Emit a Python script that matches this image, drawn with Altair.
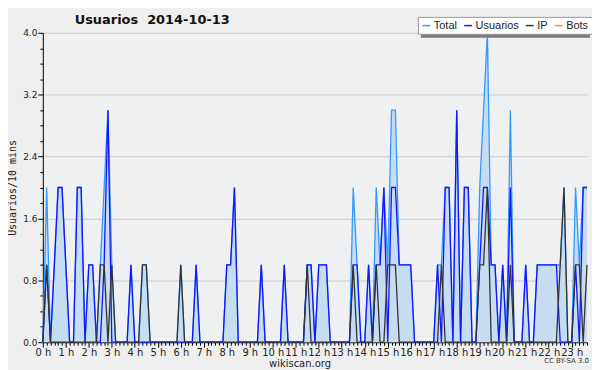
import altair as alt
import pandas as pd

# 10-minute slots, 0 .. 142 (00:00 .. 23:40)
n_slots = 143

total_pts = {1: 2, 3: 1, 4: 2, 5: 2, 6: 1, 9: 2, 10: 2, 12: 1, 13: 1, 15: 1, 16: 2, 17: 3, 18: 1,
             23: 1, 26: 1, 27: 1, 36: 1, 40: 1, 48: 1, 49: 1, 50: 2, 57: 1, 63: 1, 69: 1, 70: 1,
             72: 1, 73: 1, 74: 1, 81: 2, 82: 1, 85: 1, 87: 2, 88: 1, 89: 2, 90: 1, 91: 3, 92: 3,
             93: 1, 94: 1, 95: 1, 96: 1, 103: 1, 104: 1, 105: 2, 106: 2, 108: 3, 110: 2, 111: 2,
             114: 2, 115: 3, 116: 4, 117: 1, 118: 1, 120: 1, 122: 3, 126: 1, 129: 1, 130: 1,
             131: 1, 132: 1, 133: 1, 134: 1, 135: 1, 136: 2, 139: 2, 140: 1, 141: 2, 142: 2}
usuarios_pts = {1: 1, 3: 1, 4: 2, 5: 2, 6: 1, 9: 2, 10: 2, 12: 1, 13: 1, 16: 1, 17: 3, 23: 1,
                40: 1, 48: 1, 49: 1, 50: 2, 57: 1, 63: 1, 69: 1, 70: 1, 72: 1, 73: 1, 74: 1,
                81: 1, 82: 1, 85: 1, 87: 1, 88: 1, 89: 2, 91: 2, 92: 2, 93: 1, 94: 1, 95: 1,
                96: 1, 103: 1, 105: 2, 106: 2, 108: 3, 110: 2, 111: 2, 114: 1, 115: 2, 116: 2,
                117: 1, 118: 1, 120: 1, 122: 2, 126: 1, 129: 1, 130: 1, 131: 1, 132: 1, 133: 1,
                134: 1, 139: 1, 141: 2, 142: 2}
ip_pts = {1: 1, 15: 1, 16: 1, 18: 1, 26: 1, 27: 1, 36: 1, 69: 1, 81: 1, 87: 1, 90: 1, 91: 1,
          92: 1, 104: 1, 114: 1, 115: 1, 116: 2, 122: 1, 135: 1, 136: 2, 139: 1, 140: 1, 142: 1}

series_names = ["Total", "Usuarios", "IP", "Bots"]
series_colors = ["#3399ff", "#1414ff", "#333333", "#ff9900"]
title_text = "Usuarios\u00a0\u00a02014-10-13"
credit_text = "CC BY-SA 3.0"

total = [total_pts.get(i, 0) for i in range(n_slots)]
usuarios = [usuarios_pts.get(i, 0) for i in range(n_slots)]
ip = [ip_pts.get(i, 0) for i in range(n_slots)]

rows = []
for name, vals in (("Total", total), ("Usuarios", usuarios), ("IP", ip)):
    for i, v in enumerate(vals):
        rows.append({"slot": i, "value": v, "serie": name})
df = pd.DataFrame(rows)

is_hour = "datum.value % 6 === 0"
is_major_y = "abs(datum.value / 0.8 - round(datum.value / 0.8)) < 0.01"

x_enc = alt.X(
    "slot:Q",
    scale=alt.Scale(domain=[0, n_slots - 1], nice=False, zero=False),
    axis=alt.Axis(
        values=list(range(n_slots)),
        labelExpr="datum.value % 6 === 0 ? (datum.value / 6) + ' h' : ''",
        tickSize={"condition": {"test": is_hour, "value": 5}, "value": 3},
        grid=False,
        labelFontSize=10,
        labelPadding=0,
        labelFlush=False,
        labelOverlap=False,
        title="wikiscan.org",
        titleFontSize=10,
        titleFontWeight="normal",
        titlePadding=1,
        titleX=258,
    ),
)
y_enc = alt.Y(
    "value:Q",
    scale=alt.Scale(domain=[0, 4], nice=False),
    axis=alt.Axis(
        values=[round(0.2 * k, 1) for k in range(21)],
        labelExpr=f"{is_major_y} ? format(datum.value, '.1f') : ''",
        tickSize={"condition": {"test": is_major_y, "value": 5}, "value": 3},
        gridOpacity={"condition": {"test": is_major_y, "value": 1}, "value": 0},
        gridColor="#cccccc",
        labelFontSize=9,
        labelPadding=1,
        title="Usuarios/10 mins",
        titleFont="DejaVu Sans Mono",
        titleFontSize=10,
        titleFontWeight="normal",
        titlePadding=5,
    ),
)

color_scale = alt.Scale(domain=series_names, range=series_colors)
legend = alt.Legend(
    title=None, orient="none", legendX=377, legendY=-16, direction="horizontal",
    symbolType="stroke", symbolStrokeWidth=1.5, symbolSize=64, labelFontSize=11,
    labelFont="Liberation Sans", labelColor="#222222", fillColor="white", strokeColor="#999999",
    padding=3, columnPadding=3, labelOffset=2,
)

base = alt.Chart(df)
area = base.transform_filter(alt.datum.serie == "Total").mark_area(
    color="#c6ddf1", opacity=1
).encode(x=x_enc, y=y_enc)

def line(name):
    return base.transform_filter(alt.datum.serie == name).mark_line(strokeWidth=1.3).encode(
        x=x_enc, y=y_enc, color=alt.Color("serie:N", scale=color_scale, legend=legend)
    )

shadow = alt.Chart(pd.DataFrame({"k": [0]})).mark_rect(color="#7a7a7a").encode(
    x=alt.value(380), x2=alt.value(550), y=alt.value(-13), y2=alt.value(5)
)

title = alt.Chart(pd.DataFrame({"t": [title_text]})).mark_text(
    align="left", baseline="alphabetic", fontSize=13, fontWeight="bold",
    font="DejaVu Sans", color="#111111"
).encode(text="t:N", x=alt.value(32), y=alt.value(-9))

credit = alt.Chart(pd.DataFrame({"t": [credit_text]})).mark_text(
    align="right", fontSize=7, color="#333333", font="DejaVu Sans"
).encode(text="t:N", x=alt.value(549), y=alt.value(330))

chart = alt.layer(area, line("Total"), line("Usuarios"), line("IP"), shadow, title, credit).properties(
    width=547, height=311,
    autosize=alt.AutoSizeParams(type="none"),
    padding={"left": 35, "top": 24, "right": 5, "bottom": 27},
    background="#efefef",
).configure_view(fill="#eff0f2", strokeWidth=0).configure_axis(
    domainColor="black", tickColor="black", labelColor="#222222", labelFont="DejaVu Sans",
    titleFont="DejaVu Sans", titleColor="#222222",
)

chart.save("out.html", embed_options={"renderer": "svg", "actions": False})
